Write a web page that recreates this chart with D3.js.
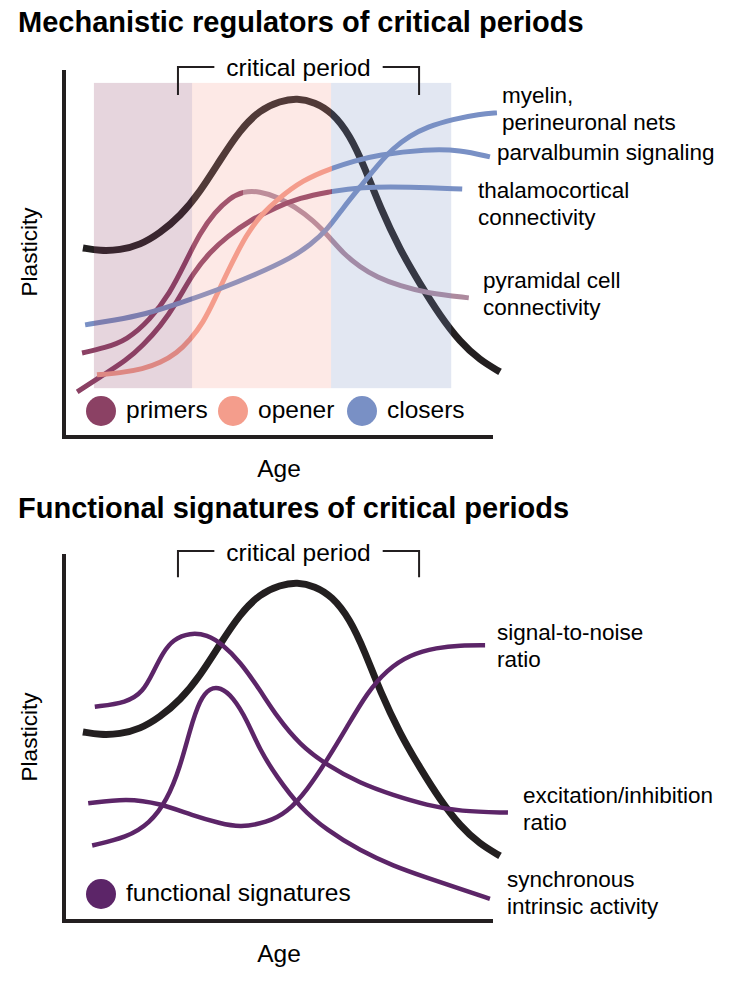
<!DOCTYPE html>
<html>
<head>
<meta charset="utf-8">
<script src="https://cdn.jsdelivr.net/npm/d3@7"></script>
<style>
  html, body { margin: 0; padding: 0; background: #ffffff; }
  svg { display: block; font-family: "Liberation Sans", Arial, Helvetica, sans-serif; }
</style>
</head>
<body>
<svg id="chart" width="730" height="981"></svg>
<script>
// ---------- DATA ([age, plasticity] pairs, both on a 0–100 scale) ----------
const titles = ["Mechanistic regulators of critical periods", "Functional signatures of critical periods"];
const axisLabelX = "Age";
const axisLabelY = "Plasticity";
const bracketLabel = "critical period";
const criticalStart = 25.9;
const criticalEnd = 80.7;

// phase bands (panel 1)
const phaseNames = ["primers", "opener", "closers"];
const phaseStart = [6.8, 29.1, 60.7];
const phaseEnd = [29.1, 60.7, 88.0];
const phaseLow = 13.2;
const phaseHigh = 95.7;

// overall plasticity (black curve, same in both panels)
const plasticity = [[4.3,51.1],[8.2,50.3],[12.7,50.5],[17.3,51.9],[21.8,55.1],[26.4,59.7],[30.9,66.2],[35.5,74.9],[40,83],[44.5,88.4],[49.1,90.8],[53,91.6],[57,90.5],[60.9,87.8],[65,81.6],[68.4,72.7],[71.8,62.2],[76.4,50.5],[80.9,41.4],[85.5,32.7],[90,25.7],[94.5,20.8],[99.1,17.6]];

// panel 1 curves
const pyramidal = [[4.1,22.7],[9.3,24.1],[14.3,26.2],[19.5,31.6],[24.1,38.9],[27.5,47],[30.9,55.1],[34.3,60.8],[37.7,64.6],[40.7,66.4],[44.5,66.4],[48.4,64.9],[52.5,62.2],[56.6,58.6],[60.5,53.8],[63.4,49.7],[67.3,45.9],[71.1,43.2],[76.4,40.8],[82.5,38.9],[92,37.6]];
const thalamocortical = [[3,12.2],[8.2,16.2],[14.3,20.8],[18,24.9],[21.8,29.7],[25.7,36.5],[29.3,44.3],[33.2,50],[37,54.1],[42.3,58.6],[48.4,62.2],[53.6,64.6],[59.8,66.2],[67.3,67.6],[78.6,67.6],[90.5,67]];
const parvalbumin = [[7.5,16.8],[12.7,17.3],[18,18.4],[21.8,20],[25.7,22.7],[28.6,26.2],[31.6,30.8],[34.3,37.3],[37,44.3],[41.6,55.1],[45,60.3],[48.4,64.1],[54.3,69.5],[60.9,72.7],[66.1,74.6],[71.1,76.2],[82.5,77.8],[90,77.6],[96.8,75.7]];
const myelin = [[4.8,30.3],[11.6,31.6],[18,33],[26.4,36.2],[34.8,39.7],[43.4,43.8],[52,48.6],[55.9,51.9],[59.8,55.9],[63.4,61.9],[67.3,67.6],[71.1,73.2],[74.8,78.1],[78.6,81.4],[82.5,83.8],[88.4,85.9],[94.5,87.3],[98.4,87.6]];
const pyramidalSplit = 40.7;
const thalamocorticalSplit = 60.9;
const parvalbuminSplit = 60.9;
const labels1 = [["myelin,", "perineuronal nets"], ["parvalbumin signaling"], ["thalamocortical", "connectivity"], ["pyramidal cell", "connectivity"]];

// panel 2 curves
const excitationInhibition = [[7,57.9],[14.3,59],[18,62],[20.2,67.1],[22.5,72.6],[24.8,76.1],[28.6,77.9],[32.5,77.4],[36.1,74.7],[40,70.1],[44.5,62.5],[48.4,55.2],[53.6,47.6],[59.8,42.1],[67.3,37.2],[74.8,34],[82.5,31.3],[90,29.6],[100.9,29.3]];
const synchronousActivity = [[6.4,20.4],[14.3,22.6],[19.5,26.4],[23.4,32.6],[26.4,41.6],[28.6,51.6],[30.9,60],[33.2,63],[35.5,63.2],[38.4,60.6],[41.6,54.3],[44.5,46.2],[48.4,38.9],[53.6,30.7],[59.8,24.5],[67.3,19],[74.8,14.9],[82.5,11.7],[90,8.7],[96.8,6]];
const signalToNoise = [[5.5,31.8],[14.3,33.2],[21.8,31.8],[29.3,28.5],[35.5,26.4],[40,25.3],[46.1,26.6],[50.7,29.3],[55.2,35.3],[59.8,43.5],[64.3,52.4],[68.9,61.7],[73.4,67.9],[78.6,72],[84.8,73.9],[90,74.5],[95.7,74.5]];
const labels2 = [["signal-to-noise", "ratio"], ["excitation/inhibition", "ratio"], ["synchronous", "intrinsic activity"]];
const legend2 = "functional signatures";

// ---------- STYLE ----------
const INK = "#231f20";
const PRIMER = "#8b4164";
const OPENER = "#f49d8c";
const CLOSER = "#7990c5";
const PYR_LATE = "#ad8a9e";
const PURPLE = "#5c2568";
const phaseColors = [PRIMER, OPENER, CLOSER];

const svg = d3.select("#chart");
const x = d3.scaleLinear().domain([0, 100]).range([64, 504]);
const y1 = d3.scaleLinear().domain([0, 100]).range([437, 67]);
const y2 = d3.scaleLinear().domain([0, 100]).range([921, 551]);

const defs = svg.append("defs");
function clip(id, x0, x1) {
  defs.append("clipPath").attr("id", id)
    .append("rect").attr("x", x0).attr("y", 0).attr("width", x1 - x0).attr("height", 981);
  return "url(#" + id + ")";
}
function lineGen(ys) {
  return d3.line().x(d => x(d[0])).y(d => ys(d[1])).curve(d3.curveBasis);
}
function drawCurve(g, ys, data, color, width) {
  g.append("path").attr("d", lineGen(ys)(data))
    .attr("fill", "none").attr("stroke", color).attr("stroke-width", width)
    .attr("stroke-linecap", "butt").attr("stroke-linejoin", "round");
}
function drawSplit(g, ys, data, split, c1, c2, width, id) {
  const gl = g.append("g").attr("clip-path", clip(id + "L", 0, x(split)));
  drawCurve(gl, ys, data, c1, width);
  const gr = g.append("g").attr("clip-path", clip(id + "R", x(split), 730));
  drawCurve(gr, ys, data, c2, width);
}
function drawAxes(ys) {
  svg.append("path")
    .attr("d", `M${x(0)},${ys(99.2)} V${ys(0)} H${x(97.5)}`)
    .attr("fill", "none").attr("stroke", INK).attr("stroke-width", 4)
    .attr("stroke-linejoin", "miter");
}
function drawBracket(ys, top, foot, textY) {
  const x0 = x(criticalStart), x1 = x(criticalEnd);
  const mid = (x0 + x1) / 2;
  const t = svg.append("text").attr("x", mid).attr("y", textY)
    .attr("text-anchor", "middle").attr("font-size", 24.5).attr("fill", "#000")
    .text(bracketLabel);
  const w = t.node().getComputedTextLength();
  const gap = w / 2 + 12;
  svg.append("path")
    .attr("d", `M${x0},${ys(foot)} V${ys(top)} H${mid - gap} M${mid + gap},${ys(top)} H${x1} V${ys(foot)}`)
    .attr("fill", "none").attr("stroke", INK).attr("stroke-width", 2);
}
function multiLine(lines, px, py, size) {
  const t = svg.append("text").attr("font-size", size).attr("fill", "#000");
  lines.forEach((l, i) => t.append("tspan").attr("x", px).attr("y", py + i * 27).text(l));
}

// ---------- TITLES ----------
svg.append("text").attr("x", 18).attr("y", 32).attr("font-size", 29).attr("font-weight", "bold").text(titles[0]);
svg.append("text").attr("x", 18).attr("y", 518).attr("font-size", 29).attr("font-weight", "bold").text(titles[1]);

// ---------- PANEL 1 ----------
const g1 = svg.append("g");
drawCurve(g1, y1, plasticity, INK, 7);
drawSplit(g1, y1, pyramidal, pyramidalSplit, PRIMER, PYR_LATE, 5, "pyr");
drawSplit(g1, y1, thalamocortical, thalamocorticalSplit, PRIMER, CLOSER, 5, "thal");
drawSplit(g1, y1, parvalbumin, parvalbuminSplit, OPENER, CLOSER, 5, "parv");
drawCurve(g1, y1, myelin, CLOSER, 5);

// phase bands overlay
svg.append("g").selectAll("rect").data(phaseNames).join("rect")
  .attr("x", (d, i) => x(phaseStart[i]))
  .attr("width", (d, i) => x(phaseEnd[i]) - x(phaseStart[i]))
  .attr("y", y1(phaseHigh))
  .attr("height", y1(phaseLow) - y1(phaseHigh))
  .attr("fill", (d, i) => phaseColors[i])
  .attr("fill-opacity", 0.22);

drawAxes(y1);
drawBracket(y1, 100, 92.4, 76);

// legend 1
const legX = [101, 233, 362];
phaseNames.forEach((n, i) => {
  svg.append("circle").attr("cx", legX[i]).attr("cy", 411).attr("r", 15).attr("fill", phaseColors[i]);
  svg.append("text").attr("x", legX[i] + 25).attr("y", 418).attr("font-size", 24.5).attr("fill", "#000").text(n);
});

// right labels panel 1
multiLine(labels1[0], 502, 103, 22.5);
multiLine(labels1[1], 497, 160, 22.5);
multiLine(labels1[2], 478, 198, 22.5);
multiLine(labels1[3], 483, 288, 22.5);

svg.append("text").attr("x", 279).attr("y", 477).attr("text-anchor", "middle").attr("font-size", 24.5).text(axisLabelX);
svg.append("text").attr("transform", "translate(37,252) rotate(-90)").attr("text-anchor", "middle").attr("font-size", 22.5).text(axisLabelY);

// ---------- PANEL 2 ----------
const g2 = svg.append("g");
drawCurve(g2, y2, plasticity, INK, 7);
drawCurve(g2, y2, signalToNoise, PURPLE, 4.5);
drawCurve(g2, y2, excitationInhibition, PURPLE, 4.5);
drawCurve(g2, y2, synchronousActivity, PURPLE, 4.5);

drawAxes(y2);
drawBracket(y2, 100, 92.9, 561);

svg.append("circle").attr("cx", 101).attr("cy", 894).attr("r", 15).attr("fill", PURPLE);
svg.append("text").attr("x", 126).attr("y", 901).attr("font-size", 24.5).attr("fill", "#000").text(legend2);

multiLine(labels2[0], 497, 640, 22.5);
multiLine(labels2[1], 523, 803, 22.5);
multiLine(labels2[2], 507, 887, 22.5);

svg.append("text").attr("x", 279).attr("y", 962).attr("text-anchor", "middle").attr("font-size", 24.5).text(axisLabelX);
svg.append("text").attr("transform", "translate(37,737) rotate(-90)").attr("text-anchor", "middle").attr("font-size", 22.5).text(axisLabelY);
</script>
</body>
</html>
